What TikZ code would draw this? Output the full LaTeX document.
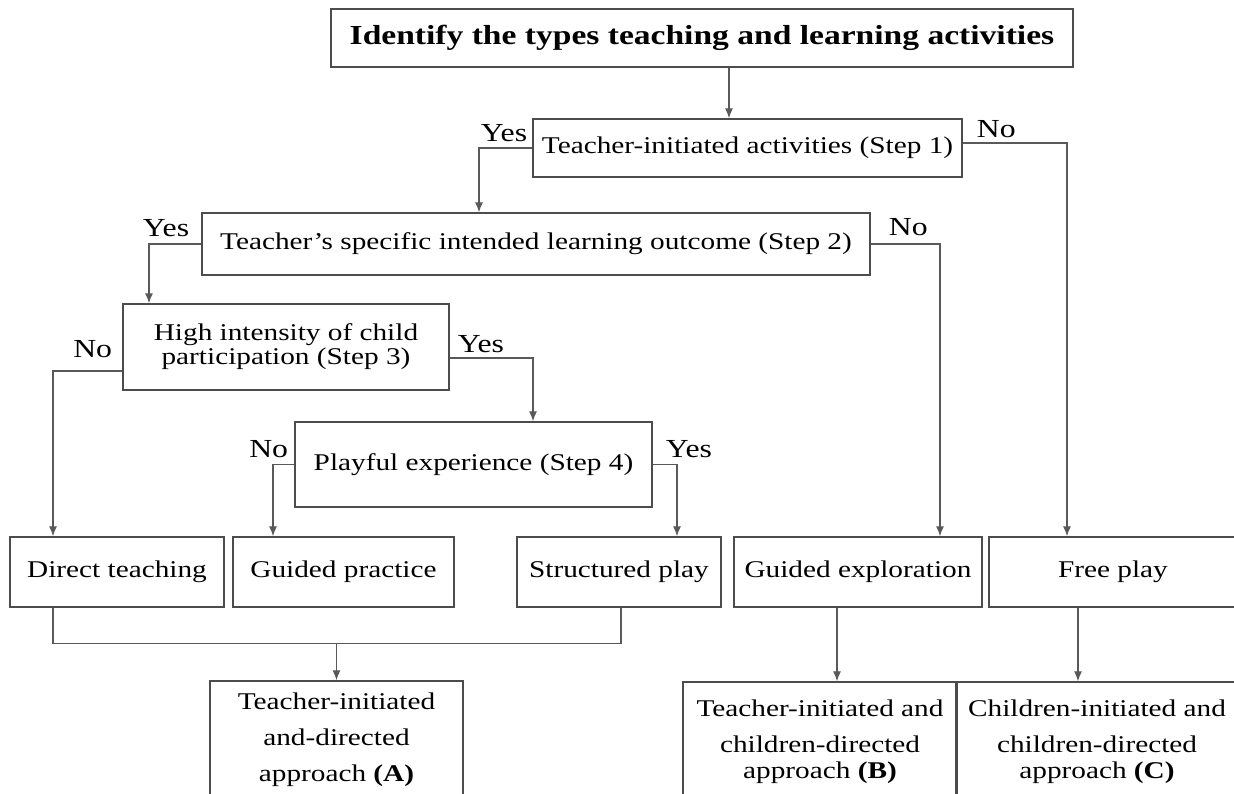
\documentclass[tikz,border=0pt]{standalone}
\usepackage{fontspec}
\setmainfont{Liberation Serif}[FakeStretch=1.22]
\usetikzlibrary{arrows.meta}
\tikzstyle{every node}=[font=\fontsize{24}{26}\selectfont]
\tikzstyle{stepbox}=[rectangle,
                     draw=black!70,
                     line width=1.4pt,
                     inner sep=0pt,
                     align=center]
\tikzstyle{answer}=[inner sep=0pt,
                    font=\fontsize{26}{28}\selectfont]
\tikzstyle{flow}=[draw=black!65,
                  line width=1.2pt]

\begin{document}
\begin{tikzpicture}[x=1pt,y=-1pt,>={Latex[length=10pt,width=8pt]}]
\useasboundingbox (0,0) rectangle (1234,793);
% questions
\node (title) [stepbox,minimum width=742,minimum height=58,font=\fontsize{27.5}{30}\selectfont\bfseries] at (702,38) {Identify the types teaching and learning activities};
\node (step1) [stepbox,minimum width=429,minimum height=58] at (747.5,148) {Teacher-initiated activities (Step 1)};
\node (step2) [stepbox,minimum width=668,minimum height=62] at (536,244) {Teacher’s specific intended learning outcome (Step 2)};
\node (step3) [stepbox,minimum width=326,minimum height=86,font=\fontsize{24}{24}\selectfont] at (286,347) {High intensity of child\\participation (Step 3)};
\node (playful) [stepbox,minimum width=357,minimum height=85] at (473.5,464.5) {Playful experience (Step 4)};
% activity types
\node (direct) [stepbox,minimum width=214,minimum height=70] at (117,572) {Direct teaching};
\node (guidedpr) [stepbox,minimum width=221,minimum height=70] at (343.5,572) {Guided practice};
\node (structured) [stepbox,minimum width=204,minimum height=70] at (619,572) {Structured play};
\node (guidedex) [stepbox,minimum width=248,minimum height=70] at (858,572) {Guided exploration};
\node (freeplay) [stepbox,minimum width=248,minimum height=70] at (1113,572) {Free play};
% approaches
\node (appA) [stepbox,minimum width=253,minimum height=118,font=\fontsize{24}{36}\selectfont] at (336.5,740) {Teacher-initiated\\and-directed\\approach \textbf{(A)}};
\node (appB) [stepbox,minimum width=274,minimum height=119] at (820,741.5) {Teacher-initiated and\\[10pt]children-directed\\approach \textbf{(B)}};
\node (appC) [stepbox,minimum width=282,minimum height=119] at (1097,741.5) {Children-initiated and\\[10pt]children-directed\\approach \textbf{(C)}};
% answers
\node (yes1) [answer,anchor=south east,xshift=-5pt,yshift=6pt] at (step1.west) {Yes};
\node (no1) [answer,anchor=south west,xshift=14pt,yshift=10pt] at (step1.east) {No};
\node (yes2) [answer,anchor=south east,xshift=-12pt,yshift=7pt] at (step2.west) {Yes};
\node (no2) [answer,anchor=south west,xshift=18pt,yshift=8pt] at (step2.east) {No};
\node (no3) [answer,anchor=south east,xshift=-10pt,yshift=-11pt] at (step3.west) {No};
\node (yes3) [answer,anchor=south west,xshift=8pt,yshift=-6pt] at (step3.east) {Yes};
\node (no4) [answer,anchor=south east,xshift=-6pt,yshift=7pt] at (playful.west) {No};
\node (yes4) [answer,anchor=south west,xshift=13pt,yshift=7pt] at (playful.east) {Yes};
% connectors
\draw[flow,->] ([xshift=27pt]title.south) -- ([xshift=27pt]title.south |- step1.north);
\draw[flow,->] (step1.west) -| ([xshift=-57pt]step2.north);
\draw[flow,->] ([yshift=5pt]step1.east) -| ([xshift=-46pt]freeplay.north);
\draw[flow,->] (step2.west) -| ([xshift=-137pt]step3.north);
\draw[flow,->] (step2.east) -| ([xshift=82pt]guidedex.north);
\draw[flow,->] ([yshift=-24pt]step3.west) -| ([xshift=-64pt]direct.north);
\draw[flow,->] ([yshift=-11pt]step3.east) -| ([xshift=59.5pt]playful.north);
\draw[flow,->] (playful.west) -| ([xshift=-70.5pt]guidedpr.north);
\draw[flow,->] (playful.east) -| ([xshift=58pt]structured.north);
\coordinate (joinA) at ([xshift=-64pt,yshift=-36pt]direct.south);
\draw[flow] ([xshift=-64pt]direct.south) -- (joinA) -| ([xshift=2pt]structured.south);
\draw[flow,->] (joinA -| appA.north) -- (appA.north);
\draw[flow,->] ([xshift=-21pt]guidedex.south) -- ([xshift=-21pt]guidedex.south |- appB.north);
\draw[flow,->] ([xshift=-35pt]freeplay.south) -- ([xshift=-35pt]freeplay.south |- appC.north);
\end{tikzpicture}
\end{document}
